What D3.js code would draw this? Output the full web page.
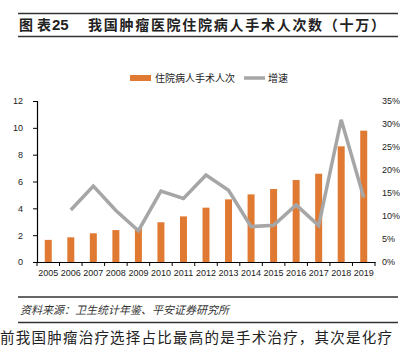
<!DOCTYPE html>
<html><head><meta charset="utf-8">
<script src="https://cdn.jsdelivr.net/npm/d3@7"></script>
<style>body{margin:0;background:#fff}svg{display:block}</style>
</head><body>
<script>
const years = ["2005","2006","2007","2008","2009","2010","2011","2012","2013","2014","2015","2016","2017","2018","2019"];
const surgeries = [1.65,1.84,2.14,2.38,2.53,2.96,3.40,4.05,4.67,5.04,5.44,6.11,6.58,8.62,9.79];
const growth = [null,11.3,16.5,11.2,6.8,15.4,13.8,18.9,15.6,7.7,8.0,12.4,7.9,30.9,14.0];
const leftTicks = [0,2,4,6,8,10,12];
const rightTicks = [0,5,10,15,20,25,30,35];
const seriesNames = ["住院病人手术人次","增速"];
const title1a = "图表", title1b = "25", title2 = "我国肿瘤医院住院病人手术人次数（十万）";
const source = "资料来源：卫生统计年鉴、平安证券研究所";
const bodyText = "前我国肿瘤治疗选择占比最高的是手术治疗，其次是化疗";

const W=410,H=352;
const svg=d3.select("body").append("svg").attr("width",W).attr("height",H);
const font="'Liberation Sans', Arial, 'Noto Sans CJK SC', sans-serif";
const cjk="'Noto Sans CJK SC', sans-serif";
const orange="#e07a33", gray="#a6a6a6";

// header
svg.append("line").attr("x1",18).attr("x2",398).attr("y1",13.5).attr("y2",13.5).attr("stroke","#333").attr("stroke-width",1.3);
svg.append("line").attr("x1",18).attr("x2",398).attr("y1",36.5).attr("y2",36.5).attr("stroke","#333").attr("stroke-width",1.3);
svg.append("text").attr("x",19).attr("y",30).attr("font-family",cjk).attr("font-weight","bold").attr("font-size",14).attr("fill","#222").attr("textLength",32).text(title1a);
svg.append("text").attr("x",52).attr("y",30).attr("font-family",font).attr("font-weight","bold").attr("font-size",15).attr("fill","#222").text(title1b);
svg.append("text").attr("x",88).attr("y",30).attr("font-family",cjk).attr("font-weight","bold").attr("font-size",14).attr("fill","#222").attr("textLength",297).text(title2);

const x0=37,x1=375,yTop=101,yBot=262;
const x=d3.scaleBand().domain(years).range([x0,x1]).paddingInner(0.69).paddingOuter(0.345);
const xb=d3.scaleBand().domain(years).range([x0,x1]);
const yL=d3.scaleLinear().domain([0,12]).range([yBot,yTop]);
const yR=d3.scaleLinear().domain([0,35]).range([yBot,yTop]);

// bars
svg.append("g").selectAll("rect").data(years).join("rect")
  .attr("x",d=>x(d)).attr("width",x.bandwidth())
  .attr("y",(d,i)=>yL(surgeries[i])).attr("height",(d,i)=>yBot-yL(surgeries[i]))
  .attr("fill",orange);

// line
const line=d3.line().defined(d=>d.v!=null).x(d=>xb(d.k)+xb.bandwidth()/2).y(d=>yR(d.v));
svg.append("path").datum(years.map((k,i)=>({k,v:growth[i]})))
  .attr("d",line).attr("fill","none").attr("stroke",gray).attr("stroke-width",3.5).attr("stroke-linejoin","miter");

// left axis
const gl=svg.append("g").attr("transform",`translate(${x0},0)`)
  .call(d3.axisLeft(yL).tickValues(leftTicks).tickSize(4).tickPadding(10));
gl.select(".domain").attr("stroke","#000").attr("stroke-width",1.2);
gl.selectAll("text").attr("font-family",font).attr("font-size",9).attr("fill","#222");

// right axis
const gr=svg.append("g").attr("transform",`translate(${x1},0)`)
  .call(d3.axisRight(yR).tickValues(rightTicks).tickFormat(d=>d+"%").tickSize(0).tickPadding(7));
gr.select(".domain").remove();
gr.selectAll("text").attr("font-family",font).attr("font-size",9).attr("fill","#222");

// bottom axis
const gb=svg.append("g").attr("transform",`translate(0,${yBot})`)
  .call(d3.axisBottom(xb).tickSize(0).tickPadding(8));
gb.select(".domain").attr("stroke","#000").attr("stroke-width",1.2);
gb.selectAll("text").attr("font-family",font).attr("font-size",9).attr("fill","#222");
const sep=svg.append("g");
years.concat(["end"]).forEach((d,i)=>{
  const xx=x0+i*xb.bandwidth();
  sep.append("line").attr("x1",xx).attr("x2",xx).attr("y1",yBot).attr("y2",yBot+4).attr("stroke","#000").attr("stroke-width",1);
});

// legend
svg.append("rect").attr("x",130).attr("y",75).attr("width",21).attr("height",6).attr("fill",orange);
svg.append("text").attr("x",155).attr("y",82).attr("font-family",cjk).attr("font-size",10).attr("fill","#222").text(seriesNames[0]);
svg.append("line").attr("x1",244).attr("x2",265).attr("y1",78).attr("y2",78).attr("stroke",gray).attr("stroke-width",3.5);
svg.append("text").attr("x",268).attr("y",82).attr("font-family",cjk).attr("font-size",10).attr("fill","#222").text(seriesNames[1]);

// footer
svg.append("line").attr("x1",18).attr("x2",398).attr("y1",297).attr("y2",297).attr("stroke","#333").attr("stroke-width",1.3);
svg.append("line").attr("x1",18).attr("x2",398).attr("y1",322.5).attr("y2",322.5).attr("stroke","#333").attr("stroke-width",1.3);
svg.append("text").attr("x",20).attr("y",314).attr("font-family",cjk).attr("font-style","italic").attr("font-size",11).attr("fill","#333").text(source);
svg.append("text").attr("x",0).attr("y",343).attr("font-family",cjk).attr("font-size",14.5).attr("fill","#222").attr("textLength",392).text(bodyText);
</script>
</body></html>
